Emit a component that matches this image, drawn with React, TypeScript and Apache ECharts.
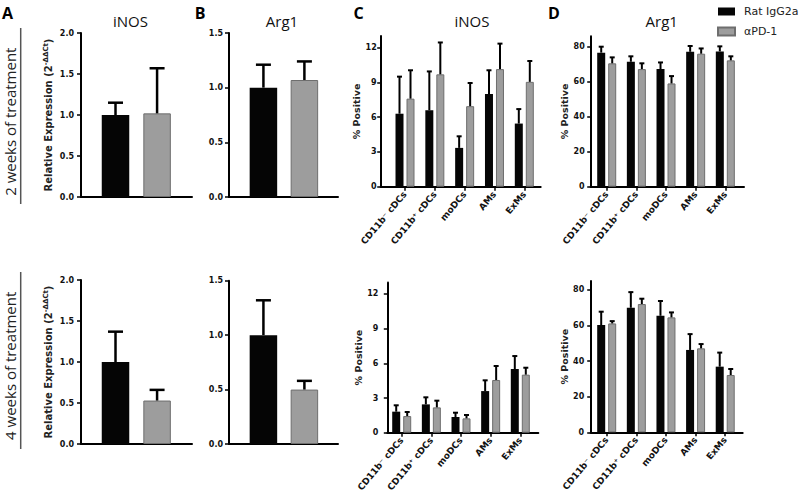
import React, { useEffect, useRef } from 'react';
import * as echarts from 'echarts';

// ---------- data ----------
const CATEGORIES = ['CD11b⁻ cDCs', 'CD11b⁺ cDCs', 'moDCs', 'AMs', 'ExMs'];
const GROUPS = ['Rat IgG2a', 'αPD-1'];

// A: iNOS relative expression (Rat IgG2a, αPD-1)
const A2_MEAN = [1.0, 1.02];
const A2_SEM = [0.15, 0.55];
const A4_MEAN = [1.0, 0.53];
const A4_SEM = [0.37, 0.13];
// B: Arg1 relative expression
const B2_MEAN = [1.0, 1.07];
const B2_SEM = [0.21, 0.17];
const B4_MEAN = [1.0, 0.5];
const B4_SEM = [0.32, 0.08];

// C: iNOS % positive
const C2_RAT = [6.3, 6.6, 3.35, 8.0, 5.45];
const C2_RAT_SEM = [3.2, 3.35, 1.0, 2.05, 1.25];
const C2_PD1 = [7.6, 9.7, 6.95, 10.15, 9.05];
const C2_PD1_SEM = [2.45, 2.75, 2.0, 2.2, 1.8];
const C4_RAT = [1.82, 2.45, 1.36, 3.6, 5.5];
const C4_RAT_SEM = [0.55, 0.61, 0.37, 0.93, 1.13];
const C4_PD1 = [1.44, 2.19, 1.24, 4.56, 5.02];
const C4_PD1_SEM = [0.35, 0.58, 0.29, 1.21, 0.6];

// D: Arg1 % positive
const D2_RAT = [76.6, 71.4, 67.2, 77.1, 77.3];
const D2_RAT_SEM = [3.4, 3.1, 3.8, 3.3, 2.9];
const D2_PD1 = [70.5, 67.2, 59.0, 76.0, 72.2];
const D2_PD1_SEM = [3.4, 3.3, 4.2, 3.0, 2.3];
const D4_RAT = [60.3, 70.0, 65.5, 46.3, 36.9];
const D4_RAT_SEM = [7.5, 8.8, 8.3, 8.9, 7.9];
const D4_PD1 = [61.2, 72.1, 64.6, 47.2, 32.2];
const D4_PD1_SEM = [1.3, 3.0, 2.8, 2.4, 3.4];

// tick values
const Y_TICKS_C = [0, 3, 6, 9, 12];
const Y_TICKS_D = [0, 20, 40, 60, 80];

// ---------- styling ----------
const TICK_FONT = 'DejaVu Sans';
const TEXT_FONT = 'Open Sans';
const BLACK = '#050505';
const GRAY = '#9d9d9d';
const GRAY_BORDER = '#6e6e6e';

type Lay = {
  left: number; top: number; width: number; height: number;
  xMin: number; xMax: number; yMax: number; labelMargin: number; nameGap: number;
};

function buildOption() {
  const grids: any[] = [];
  const xAxes: any[] = [];
  const yAxes: any[] = [];
  const series: any[] = [];

  const axisLine = { show: true, onZero: false, lineStyle: { color: '#000', width: 2 } };
  const tickLabel = { fontSize: 8, fontWeight: 'bold', fontFamily: TICK_FONT, color: '#111' };
  const nameStyle = { fontSize: 9.5, fontWeight: 'bold', fontFamily: TICK_FONT, color: '#222' };
  const relStyle = { fontSize: 10, fontWeight: 'bold', fontFamily: TICK_FONT, color: '#222' };

  const errSeries = (i: number, data: number[][], offset: number, capHalf: number, lw: number) => ({
    type: 'custom',
    xAxisIndex: i,
    yAxisIndex: i,
    silent: true,
    z: 5,
    encode: { x: 0, y: [1, 2] },
    data,
    renderItem: (_p: any, api: any) => {
      const x = api.value(0);
      const p0 = api.coord([x, api.value(1)]);
      const p1 = api.coord([x, api.value(2)]);
      const cx = p0[0] + offset;
      return {
        type: 'group',
        children: [
          { type: 'line', shape: { x1: cx, y1: p0[1], x2: cx, y2: p1[1] }, style: { stroke: '#000', lineWidth: lw } },
          { type: 'line', shape: { x1: cx - capHalf, y1: p1[1], x2: cx + capHalf, y2: p1[1] }, style: { stroke: '#000', lineWidth: lw } },
        ],
      };
    },
  });

  const barStyle = (k: number) =>
    k === 0 ? { color: BLACK } : { color: GRAY, borderColor: GRAY_BORDER, borderWidth: 1 };

  const addTwoBar = (lay: Lay, means: number[], sems: number[], withName: boolean) => {
    const i = grids.length;
    grids.push({ left: lay.left, top: lay.top, width: lay.width, height: lay.height, outerBoundsMode: 'none' });
    xAxes.push({
      gridIndex: i, type: 'value', min: lay.xMin, max: lay.xMax,
      axisLine, axisTick: { show: false }, axisLabel: { show: false }, splitLine: { show: false },
    });
    yAxes.push({
      gridIndex: i, type: 'value', min: 0, max: lay.yMax, interval: 0.5,
      axisLine, splitLine: { show: false },
      axisTick: { show: true, length: 4, lineStyle: { color: '#000', width: 1.5 } },
      axisLabel: { ...tickLabel, margin: lay.labelMargin, formatter: (v: number) => v.toFixed(1) },
      name: withName ? '{n|Relative Expression (2}{sup|-ΔΔCt}{n|)}' : '',
      nameLocation: 'middle', nameRotate: 90, nameGap: lay.nameGap,
      nameTextStyle: {
        ...relStyle,
        rich: {
          n: { ...relStyle, lineHeight: 11, verticalAlign: 'bottom' },
          sup: { ...relStyle, fontSize: 7, lineHeight: 8, verticalAlign: 'top', padding: [0, 0, 6, 0] },
        },
      },
    });
    GROUPS.forEach((g, k) => {
      series.push({
        type: 'bar', name: g, xAxisIndex: i, yAxisIndex: i,
        data: [[k, means[k]]], barWidth: 27.5, barGap: '-100%', itemStyle: barStyle(k),
      });
      series.push(errSeries(i, [[k, means[k], means[k] + sems[k]]], 0, 7.5, 2.5));
    });
  };

  const addCat = (lay: Lay, vals: number[][], sems: number[][], yTicks: number[]) => {
    const i = grids.length;
    const idx = CATEGORIES.map((_, j) => j);
    grids.push({ left: lay.left, top: lay.top, width: lay.width, height: lay.height, outerBoundsMode: 'none' });
    xAxes.push({
      gridIndex: i, type: 'value', min: lay.xMin, max: lay.xMax,
      axisLine, splitLine: { show: false },
      axisTick: { show: true, customValues: idx, length: 4, lineStyle: { color: '#000', width: 1.5 } },
      axisLabel: {
        ...tickLabel, fontSize: 9, customValues: idx, rotate: 50, margin: 6,
        formatter: (v: number) => CATEGORIES[Math.round(v)],
      },
    });
    yAxes.push({
      gridIndex: i, type: 'value', min: 0, max: lay.yMax,
      axisLine, splitLine: { show: false },
      axisTick: { show: true, customValues: yTicks, length: 3.5, lineStyle: { color: '#000', width: 1.5 } },
      axisLabel: { ...tickLabel, customValues: yTicks, margin: lay.labelMargin },
      name: '% Positive', nameLocation: 'middle', nameRotate: 90, nameGap: lay.nameGap,
      nameTextStyle: nameStyle,
    });
    GROUPS.forEach((g, k) => {
      series.push({
        type: 'bar', name: g, xAxisIndex: i, yAxisIndex: i,
        data: vals[k].map((v, j) => [j, v]), barWidth: 8, barGap: '37.5%', itemStyle: barStyle(k),
      });
      series.push(
        errSeries(i, vals[k].map((v, j) => [j, v, v + sems[k][j]]), k === 0 ? -5.5 : 5.5, 2.5, 2)
      );
    });
  };

  addTwoBar({ left: 81, top: 33, width: 111, height: 164, xMin: -0.83, xMax: 1.84, yMax: 2, labelMargin: 7, nameGap: 28 }, A2_MEAN, A2_SEM, true);
  addTwoBar({ left: 81, top: 280, width: 111, height: 164, xMin: -0.83, xMax: 1.84, yMax: 2, labelMargin: 7, nameGap: 28 }, A4_MEAN, A4_SEM, true);
  addTwoBar({ left: 229, top: 33, width: 109, height: 164, xMin: -0.84, xMax: 1.82, yMax: 1.5, labelMargin: 6, nameGap: 28 }, B2_MEAN, B2_SEM, false);
  addTwoBar({ left: 229, top: 280.7, width: 109, height: 163.3, xMin: -0.84, xMax: 1.82, yMax: 1.5, labelMargin: 6, nameGap: 28 }, B4_MEAN, B4_SEM, false);
  addCat({ left: 380.7, top: 36.1, width: 160, height: 150.6, xMin: -0.815, xMax: 4.55, yMax: 13, labelMargin: 4, nameGap: 14 }, [C2_RAT, C2_PD1], [C2_RAT_SEM, C2_PD1_SEM], Y_TICKS_C);
  addCat({ left: 387.3, top: 282.4, width: 151, height: 150.3, xMin: -0.486, xMax: 4.607, yMax: 13, labelMargin: 9, nameGap: 22 }, [C4_RAT, C4_PD1], [C4_RAT_SEM, C4_PD1_SEM], Y_TICKS_C);
  addCat({ left: 590.7, top: 36.2, width: 153.3, height: 150.5, xMin: -0.54, xMax: 4.63, yMax: 86, labelMargin: 6, nameGap: 20 }, [D2_RAT, D2_PD1], [D2_RAT_SEM, D2_PD1_SEM], Y_TICKS_D);
  addCat({ left: 590.7, top: 281.1, width: 152, height: 151.2, xMin: -0.54, xMax: 4.59, yMax: 85, labelMargin: 6.5, nameGap: 21 }, [D4_RAT, D4_PD1], [D4_RAT_SEM, D4_PD1_SEM], Y_TICKS_D);

  const txt = (text: string, x: number, y: number, size: number, weight = 'normal', fill = '#111', rotation = 0) => ({
    type: 'text', x, y, rotation, silent: true,
    style: {
      text, fill, fontSize: size, fontWeight: weight, fontFamily: TEXT_FONT,
      align: 'center', verticalAlign: 'middle', textAlign: 'center', textVerticalAlign: 'middle',
    },
  });

  const graphic = [
    txt('A', 7.5, 12.5, 16, 'bold', '#000'),
    txt('B', 200, 12.8, 16, 'bold', '#000'),
    txt('C', 358.7, 12.5, 16, 'bold', '#000'),
    txt('D', 554, 12.5, 16, 'bold', '#000'),
    txt('iNOS', 130.5, 21, 15),
    txt('Arg1', 282, 21, 15),
    txt('iNOS', 472, 21, 15),
    txt('Arg1', 661.7, 21, 15),
    txt('2 weeks of treatment', 10, 121.7, 15, 'normal', '#222', Math.PI / 2),
    txt('4 weeks of treatment', 10, 365.8, 15, 'normal', '#222', Math.PI / 2),
    { type: 'line', silent: true, shape: { x1: 20.7, y1: 28, x2: 20.7, y2: 204 }, style: { stroke: '#555', lineWidth: 1.5 } },
    { type: 'line', silent: true, shape: { x1: 20.7, y1: 272, x2: 20.7, y2: 449 }, style: { stroke: '#555', lineWidth: 1.5 } },
  ];

  return {
    animation: false,
    backgroundColor: '#ffffff',
    textStyle: { fontFamily: TICK_FONT },
    legend: {
      data: GROUPS, orient: 'vertical', left: 712, top: 1, icon: 'rect',
      itemWidth: 17, itemHeight: 8, itemGap: 9,
      textStyle: { fontSize: 11, fontFamily: TICK_FONT, color: '#222', padding: [0, 0, 0, 4] },
    },
    grid: grids,
    xAxis: xAxes,
    yAxis: yAxes,
    series,
    graphic,
  };
}

export default function App() {
  const ref = useRef<HTMLDivElement>(null);
  useEffect(() => {
    if (!ref.current) return;
    const chart = echarts.init(ref.current, undefined, { renderer: 'svg' });
    chart.setOption(buildOption() as any);
    return () => chart.dispose();
  }, []);
  return (
    <div
      ref={ref}
      style={{ position: 'fixed', left: 0, top: 0, width: 800, height: 499, background: '#fff' }}
    />
  );
}
